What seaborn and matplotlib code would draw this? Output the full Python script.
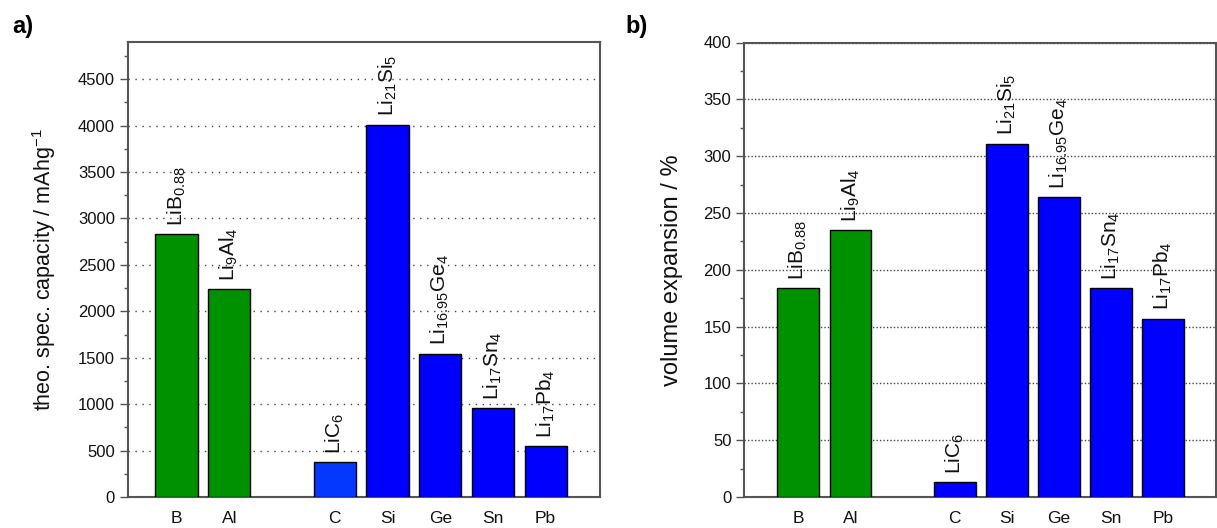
import matplotlib
matplotlib.use("Agg")
import matplotlib.pyplot as plt
from matplotlib.ticker import MultipleLocator
import seaborn as sns
import pandas as pd

# Elements (slot order on the x axis; the blank slot separates the two groups)
elements = ["B", "Al", "C", "Si", "Ge", "Sn", "Pb"]
slot_order = ["B", "Al", " ", "C", "Si", "Ge", "Sn", "Pb"]

# Lithiated phases labelled above each bar
phases = [r"LiB$_{0.88}$", r"Li$_{9}$Al$_{4}$", r"LiC$_{6}$", r"Li$_{21}$Si$_{5}$",
          r"Li$_{16.95}$Ge$_{4}$", r"Li$_{17}$Sn$_{4}$", r"Li$_{17}$Pb$_{4}$"]

# Theoretical specific capacity (mAh/g) and volume expansion (%)
capacity = [2830, 2235, 372, 4010, 1545, 955, 548]
expansion = [184, 235, 13, 311, 264, 184, 157]

colors_a = {"B": "#009100", "Al": "#009100", "C": "#0538ff", "Si": "#0000ff",
            "Ge": "#0000ff", "Sn": "#0000ff", "Pb": "#0000ff"}
colors_b = {"B": "#009100", "Al": "#009100", "C": "#0000ff", "Si": "#0000ff",
            "Ge": "#0000ff", "Sn": "#0000ff", "Pb": "#0000ff"}

sns.set_theme(style="white")
plt.rcParams["font.family"] = ["Liberation Sans", "DejaVu Sans"]
plt.rcParams["mathtext.fontset"] = "custom"
plt.rcParams["mathtext.rm"] = "Liberation Sans"
plt.rcParams["mathtext.it"] = "Liberation Sans:italic"
plt.rcParams["mathtext.bf"] = "Liberation Sans:bold"
plt.rcParams["text.color"] = "black"
plt.rcParams["axes.labelcolor"] = "black"
plt.rcParams["xtick.color"] = "black"
plt.rcParams["ytick.color"] = "black"

fig = plt.figure(figsize=(12.17, 5.28), dpi=100)
ax_a = fig.add_axes([127.5 / 1217, 1 - 497 / 528, (600 - 127.5) / 1217, (497 - 42) / 528])
ax_b = fig.add_axes([744 / 1217, 1 - 497 / 528, (1215.5 - 744) / 1217, (497 - 42.5) / 528])


def draw_panel(ax, values, palette, ylim, major, minor, ylabel, ylabel_size, ylabel_pad,
               xlim, dots):
    df = pd.DataFrame({"element": elements, "value": values})
    sns.barplot(data=df, x="element", y="value", hue="element", order=slot_order,
                palette=palette, legend=False, width=0.8, edgecolor="black",
                linewidth=1.0, saturation=1, ax=ax, zorder=3)
    pos = {name: i for i, name in enumerate(slot_order)}
    for name, val, lab in zip(elements, values, phases):
        ax.annotate(lab, xy=(pos[name], val), xytext=(0, 6), textcoords="offset points",
                    rotation=90, ha="center", va="bottom", fontsize=15, color="#111111")
    ax.set_ylim(*ylim)
    ax.set_xlim(*xlim)
    ax.yaxis.set_major_locator(MultipleLocator(major))
    ax.yaxis.set_minor_locator(MultipleLocator(minor))
    ax.yaxis.grid(True, which="major", linestyle=dots, color="#444444", linewidth=1.0, zorder=0)
    ax.xaxis.grid(False)
    ax.set_axisbelow(True)
    ax.tick_params(axis="y", which="major", direction="out", length=6, width=1,
                   color="#555555", labelcolor="#111111", labelsize=12, pad=3, left=True)
    ax.tick_params(axis="y", which="minor", direction="out", length=3, width=1,
                   color="#555555", left=True)
    ax.tick_params(axis="x", length=0, labelsize=12.5, labelcolor="#111111", pad=10)
    ax.set_xlabel("")
    ax.set_ylabel(ylabel, fontsize=ylabel_size, labelpad=ylabel_pad, color="#111111")
    for sp in ax.spines.values():
        sp.set_color("#555555")
        sp.set_linewidth(1.5)
        sp.set_visible(True)


draw_panel(ax_a, capacity, colors_a, (0, 4900), 500, 250,
           r"theo. spec. capacity / mAhg$^{-1}$", 15.5, 14, (-0.93, 8.03), (0, (1, 4)))
draw_panel(ax_b, expansion, colors_b, (0, 400), 50, 25,
           "volume expansion / %", 17, 15, (-1.04, 8.0), (0, (1, 1.5)))

fig.text(12 / 1217, 1 - 26 / 528, "a)", fontsize=17, fontweight="bold", va="center", ha="left",
         color="black")
fig.text(625 / 1217, 1 - 26 / 528, "b)", fontsize=17, fontweight="bold", va="center", ha="left",
         color="black")

fig.savefig("out.png", dpi=100)
